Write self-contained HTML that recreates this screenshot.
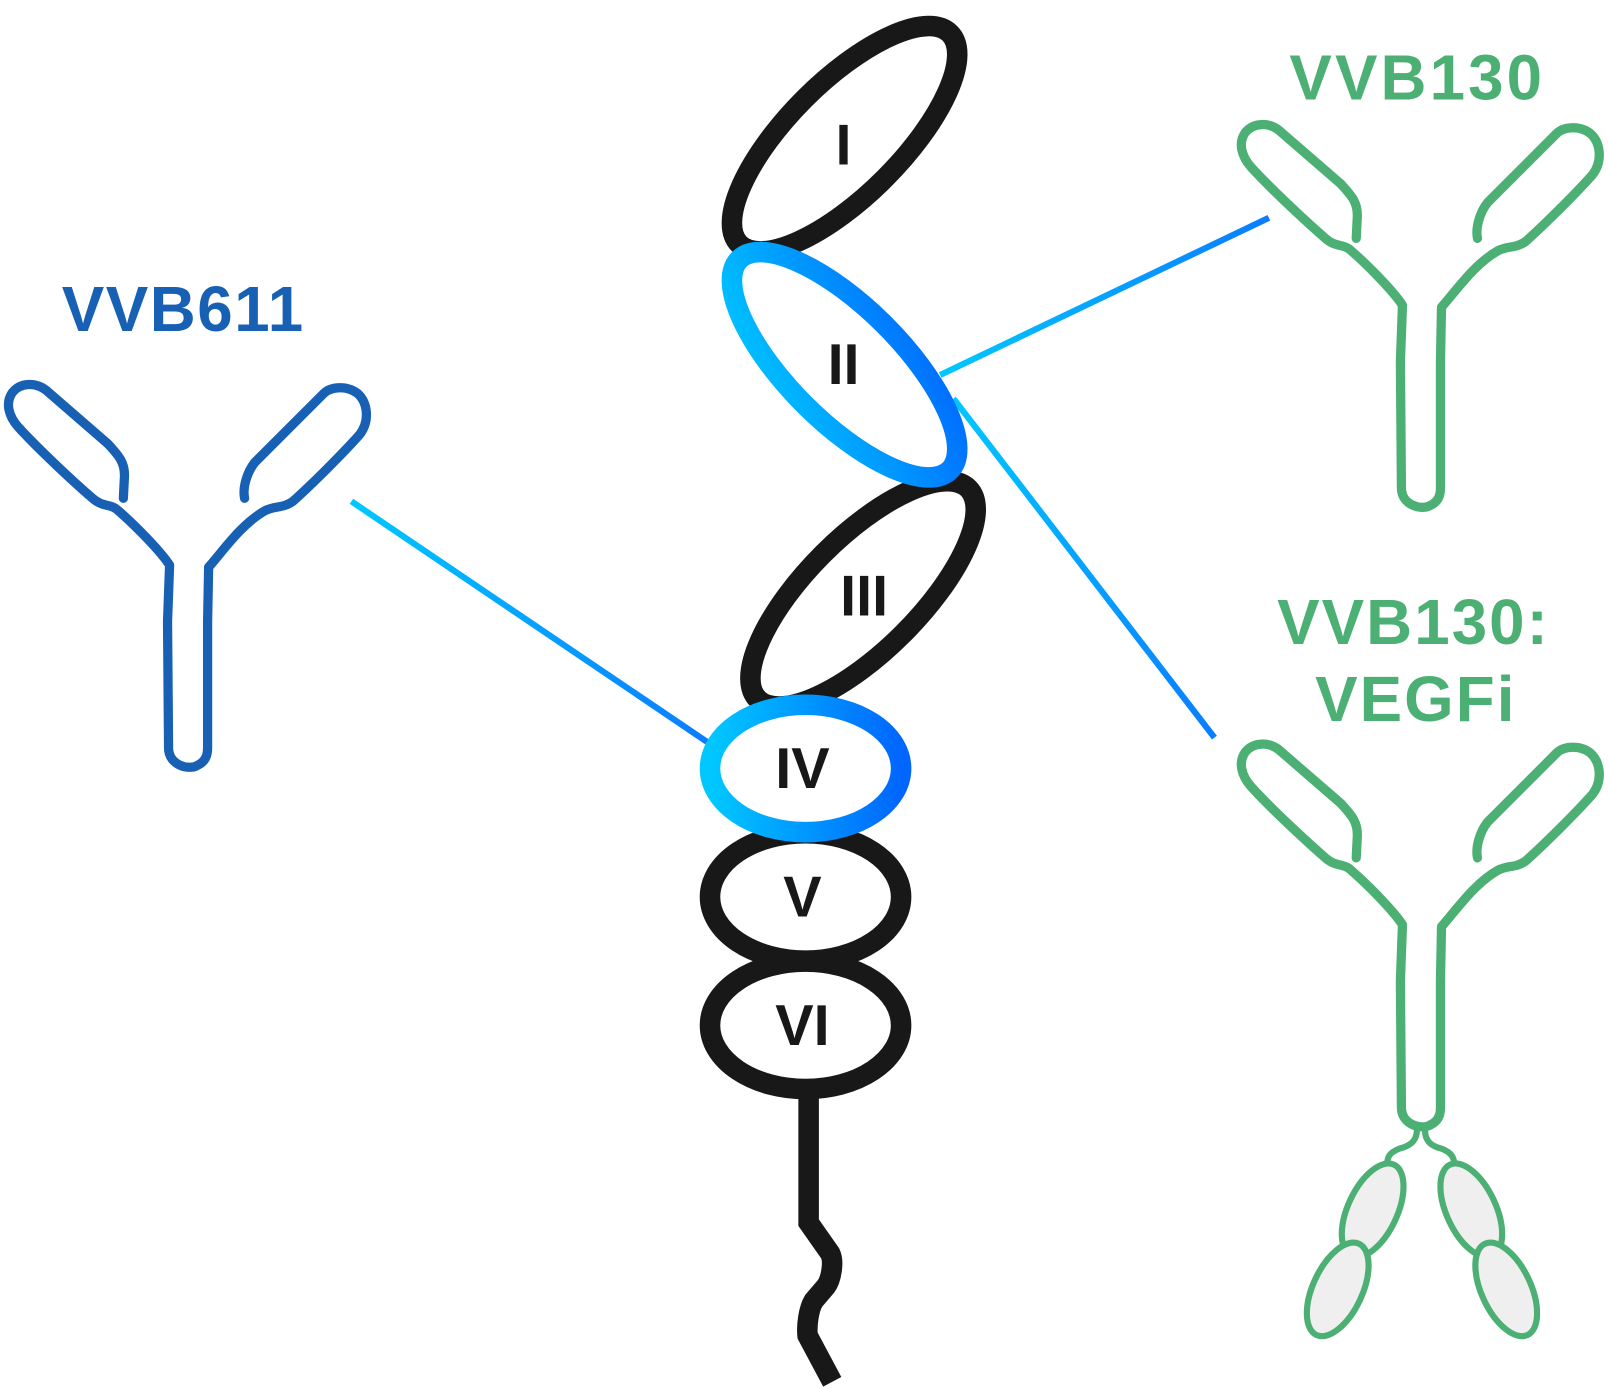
<!DOCTYPE html>
<html><head><meta charset="utf-8"><style>
html,body{margin:0;padding:0;background:#fff}
svg{display:block}
text{font-family:"Liberation Sans",sans-serif;font-weight:bold}
</style></head><body>
<svg width="1608" height="1388" viewBox="0 0 1565 1351" xmlns="http://www.w3.org/2000/svg">
<defs>
<linearGradient id="g1" x1="0" y1="1" x2="1" y2="0"><stop offset="0" stop-color="#00c8ff"/><stop offset="1" stop-color="#0066ff"/></linearGradient>
<linearGradient id="g2" x1="0" y1="0" x2="1" y2="0"><stop offset="0" stop-color="#00c8ff"/><stop offset="1" stop-color="#0066ff"/></linearGradient>
<linearGradient id="l1" gradientUnits="userSpaceOnUse" x1="342" y1="488" x2="688" y2="722"><stop offset="0" stop-color="#00c8ff"/><stop offset="1" stop-color="#0a7dff"/></linearGradient>
<linearGradient id="l2" gradientUnits="userSpaceOnUse" x1="915" y1="365" x2="1235" y2="212"><stop offset="0" stop-color="#00c8ff"/><stop offset="1" stop-color="#0a7dff"/></linearGradient>
<linearGradient id="l3" gradientUnits="userSpaceOnUse" x1="928" y1="388" x2="1182" y2="718"><stop offset="0" stop-color="#00c8ff"/><stop offset="1" stop-color="#0a7dff"/></linearGradient>
<path id="ab" fill="none" stroke-width="9" stroke-linecap="round" stroke-linejoin="round" d="M120,485 L121,465 C122,450 115,443 105,432 L45,380 C35,372 20,372 12,382 C5,392 8,405 18,416 C40,440 75,472 90,485 C100,494 108,490 115,497 C130,510 155,535 165,550 L163,605 L164,728 C164,745 184,750 192,745 C203,740 202,730 202,725 L202,605 L203,552 C218,535 235,510 258,497 C268,492 275,495 285,488 C305,470 335,440 350,423 C360,410 358,392 348,383 C338,375 322,376 315,383 L248,450 C240,460 236,475 238,485"/>
</defs>

<line x1="342" y1="488" x2="688" y2="722" stroke="url(#l1)" stroke-width="6"/>
<line x1="915" y1="365" x2="1235" y2="212" stroke="url(#l2)" stroke-width="6"/>
<line x1="928" y1="388" x2="1182" y2="718" stroke="url(#l3)" stroke-width="6"/>

<path d="M787,1068 L787,1190 L808,1220 C812,1228 809,1245 804,1252 L792,1266 C787,1274 785,1290 786,1300 L810,1345" fill="none" stroke="#181818" stroke-width="20"/>

<ellipse cx="822" cy="135" rx="145" ry="55" transform="rotate(-45 822 135)" fill="#fff" stroke="#181818" stroke-width="20"/>
<ellipse cx="840" cy="578" rx="145" ry="55" transform="rotate(-45 840 578)" fill="#fff" stroke="#181818" stroke-width="20"/>
<ellipse cx="822" cy="355" rx="145" ry="55" transform="rotate(45 822 355)" fill="#fff" stroke="url(#g1)" stroke-width="20"/>
<ellipse cx="784" cy="998" rx="93" ry="62" fill="#fff" stroke="#181818" stroke-width="20"/>
<ellipse cx="784" cy="873" rx="93" ry="62" fill="#fff" stroke="#181818" stroke-width="20"/>
<ellipse cx="784" cy="748" rx="93" ry="62" fill="#fff" stroke="url(#g2)" stroke-width="20"/>

<g font-size="56" fill="#181818" text-anchor="middle">
<text x="821" y="160">I</text>
<text x="821" y="374">II</text>
<text x="841" y="599">III</text>
<text x="781" y="767">IV</text>
<text x="781" y="892">V</text>
<text x="781" y="1017">VI</text>
</g>

<use href="#ab" stroke="#1760b3"/>
<use href="#ab" stroke="#4caf74" transform="translate(1200,-253)"/>
<use href="#ab" stroke="#4caf74" transform="translate(1200,350)"/>

<g fill="#efefef" stroke="#4caf74" stroke-width="6">
<path d="M1379,1098 C1380,1112 1370,1116 1362,1118 C1352,1122 1350,1126 1350,1135 M1387,1098 C1386,1112 1395,1116 1403,1118 C1413,1122 1415,1126 1416,1135" fill="none"/>
<ellipse cx="1336" cy="1178" rx="24" ry="49" transform="rotate(25 1336 1178)"/>
<ellipse cx="1302" cy="1255" rx="24" ry="49" transform="rotate(25 1302 1255)"/>
<ellipse cx="1432" cy="1178" rx="24" ry="49" transform="rotate(-25 1432 1178)"/>
<ellipse cx="1466" cy="1255" rx="24" ry="49" transform="rotate(-25 1466 1255)"/>
</g>

<text x="60" y="322" font-size="62" fill="#1760b3" letter-spacing="1.5">VVB611</text>
<text x="1255" y="97" font-size="62" fill="#4caf74" letter-spacing="3">VVB130</text>
<text x="1243" y="627" font-size="62" fill="#4caf74" letter-spacing="2">VVB130:</text>
<text x="1378" y="702" font-size="62" fill="#4caf74" text-anchor="middle" letter-spacing="2">VEGFi</text>
</svg>
</body></html>
